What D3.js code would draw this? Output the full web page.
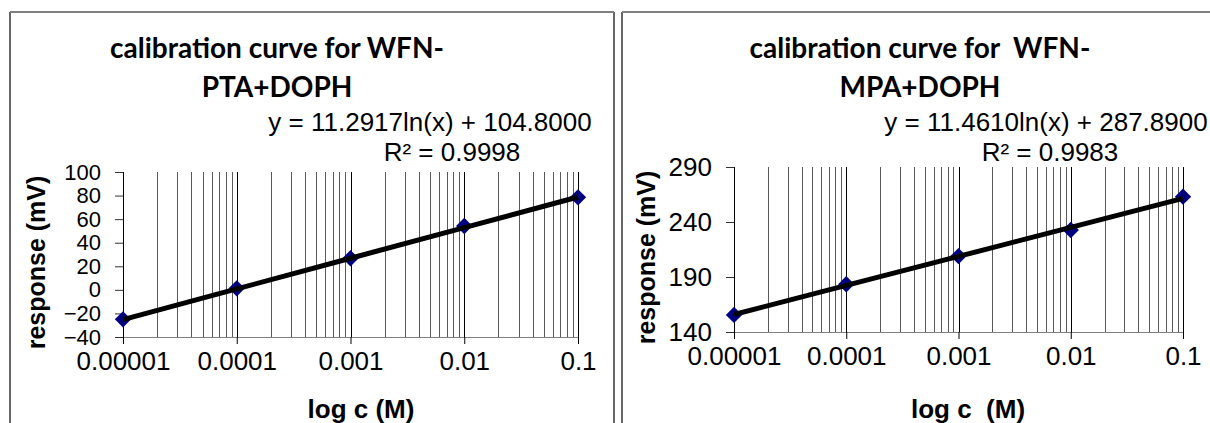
<!DOCTYPE html>
<html><head><meta charset="utf-8">
<script src="https://cdn.jsdelivr.net/npm/d3@7"></script>
<style>html,body{margin:0;padding:0;background:#fff;}svg{display:block;}</style>
</head><body>
<script>
// ---- data ----
const concentrations = [0.00001, 0.0001, 0.001, 0.01, 0.1];
const xTickLabels = ["0.00001", "0.0001", "0.001", "0.01", "0.1"];
const ptaResponse = [-25, 1.3, 26.8, 54.2, 78.5];
const mpaResponse = [155.5, 183.4, 209, 232.7, 263];
const ptaYTicks = [-40, -20, 0, 20, 40, 60, 80, 100];
const mpaYTicks = [140, 190, 240, 290];
const ptaFit = [11.2917, 104.8000];
const mpaFit = [11.4610, 287.8900];
const ptaTitle = ["calibration curve for WFN-", "PTA+DOPH"];
const mpaTitle = ["calibration curve for  WFN-", "MPA+DOPH"];
const ptaEq = ["y = 11.2917ln(x) + 104.8000", "R\u00B2 = 0.9998"];
const mpaEq = ["y = 11.4610ln(x) + 287.8900", "R\u00B2 = 0.9983"];
const yTitle = "response (mV)";
const ptaXTitle = "log c (M)";
const mpaXTitle = "log c  (M)";

const W = 1210, H = 423;
const svg = d3.select("body").append("svg").attr("width", W).attr("height", H);

const panels = [
  {bx: 10, bx2: 614, top: 12, x0: 123, x1: 578, y0: 337, y1: 172, yDom: [-40, 100], yTicks: ptaYTicks, yFs: 22,
   vals: ptaResponse, fit: ptaFit, title: ptaTitle, titleX: 277, eq: ptaEq, eqX: 430, r2X: 452,
   ylabX: 37, xTitle: ptaXTitle, xTitleX: 361},
  {bx: 622, bx2: 1215, top: 12, x0: 734, x1: 1183, y0: 332, y1: 167, yDom: [140, 290], yTicks: mpaYTicks, yFs: 26,
   vals: mpaResponse, fit: mpaFit, title: mpaTitle, titleX: 920, eq: mpaEq, eqX: 1046, r2X: 1050,
   ylabX: 647, xTitle: mpaXTitle, xTitleX: 968}
];

const sans = "'Liberation Sans', Arial, sans-serif";
const cal = "Lato, 'Open Sans', sans-serif";

panels.forEach(p => {
  const g = svg.append("g");
  // panel border
  g.append("line").attr("x1", p.bx).attr("x2", p.bx).attr("y1", p.top).attr("y2", H + 5)
    .attr("stroke", "#000").attr("stroke-width", 1.2);
  g.append("line").attr("x1", p.bx2).attr("x2", p.bx2).attr("y1", p.top).attr("y2", H + 5)
    .attr("stroke", "#000").attr("stroke-width", 1.2);
  g.append("line").attr("x1", p.bx).attr("x2", p.bx2).attr("y1", p.top).attr("y2", p.top)
    .attr("stroke", "#808080").attr("stroke-width", 2);

  const x = d3.scaleLog().domain([concentrations[0], concentrations[concentrations.length - 1]]).range([p.x0, p.x1]);
  const y = d3.scaleLinear().domain(p.yDom).range([p.y0, p.y1]);

  // vertical gridlines at every log tick (except the axis itself)
  const grid = x.ticks().filter(v => v > concentrations[0] * 1.0001);
  g.append("g").selectAll("line").data(grid).join("line")
    .attr("x1", d => Math.round(x(d)) + 0.5).attr("x2", d => Math.round(x(d)) + 0.5)
    .attr("y1", p.y1).attr("y2", p.y0)
    .attr("stroke", d => concentrations.some(c => Math.abs(c - d) / c < 1e-6) ? "#000" : "#5a5a5a")
    .attr("stroke-width", 1);

  // x axis
  const xAxis = d3.axisBottom(x).tickValues(concentrations).tickFormat((d, i) => xTickLabels[i])
    .tickSize(7).tickPadding(8);
  const xg = g.append("g").attr("transform", `translate(0,${p.y0})`).call(xAxis);
  xg.select(".domain").attr("stroke", "#808080").attr("d", `M${p.x0 - 8},0.5H${p.x1}`);
  xg.selectAll(".tick line").attr("stroke", "#000");
  xg.selectAll("text").attr("font-family", sans).attr("font-size", 26).attr("fill", "#000");

  // y axis
  const yAxis = d3.axisLeft(y).tickValues(p.yTicks).tickSize(8).tickPadding(14);
  const yg = g.append("g").attr("transform", `translate(${p.x0},0)`).call(yAxis);
  yg.select(".domain").attr("stroke", "#000").attr("d", `M0.5,${p.y0 + 7}V${p.y1}`);
  yg.selectAll(".tick line").attr("stroke", "#333");
  yg.selectAll("text").attr("font-family", sans).attr("font-size", p.yFs).attr("fill", "#000");

  // markers
  const diamond = d3.symbol().type(d3.symbolDiamond2).size(170);
  g.append("g").selectAll("path").data(p.vals).join("path")
    .attr("d", diamond)
    .attr("transform", (d, i) => `translate(${x(concentrations[i])},${y(d)})`)
    .attr("fill", "#000080");

  // logarithmic trendline from displayed equation
  const trend = concentrations.map(c => [c, p.fit[0] * Math.log(c) + p.fit[1]]);
  g.append("path").datum(trend)
    .attr("d", d3.line().x(d => x(d[0])).y(d => y(d[1])))
    .attr("fill", "none").attr("stroke", "#000").attr("stroke-width", 5);

  // title
  g.append("text").attr("x", p.titleX).attr("y", 58).attr("text-anchor", "middle")
    .attr("font-family", cal).attr("font-weight", "bold").attr("font-size", 28)
    .style("white-space", "pre").text(p.title[0]);
  g.append("text").attr("x", p.titleX).attr("y", 97).attr("text-anchor", "middle")
    .attr("font-family", cal).attr("font-weight", "bold").attr("font-size", 28).text(p.title[1]);

  // equation
  g.append("text").attr("x", p.eqX).attr("y", 131).attr("text-anchor", "middle")
    .attr("font-family", sans).attr("font-size", 26).text(p.eq[0]);
  g.append("text").attr("x", p.r2X).attr("y", 161).attr("text-anchor", "middle")
    .attr("font-family", sans).attr("font-size", 26).text(p.eq[1]);

  // axis titles
  g.append("text").attr("transform", `translate(${p.ylabX + 8},${(p.y0 + p.y1) / 2 + 8}) rotate(-90)`)
    .attr("text-anchor", "middle").attr("font-family", sans).attr("font-weight", "bold")
    .attr("font-size", 25).text(yTitle);
  g.append("text").attr("x", p.xTitleX).attr("y", 418).attr("text-anchor", "middle")
    .attr("font-family", sans).attr("font-weight", "bold").attr("font-size", 26)
    .style("white-space", "pre").text(p.xTitle);
});
</script>
</body></html>
